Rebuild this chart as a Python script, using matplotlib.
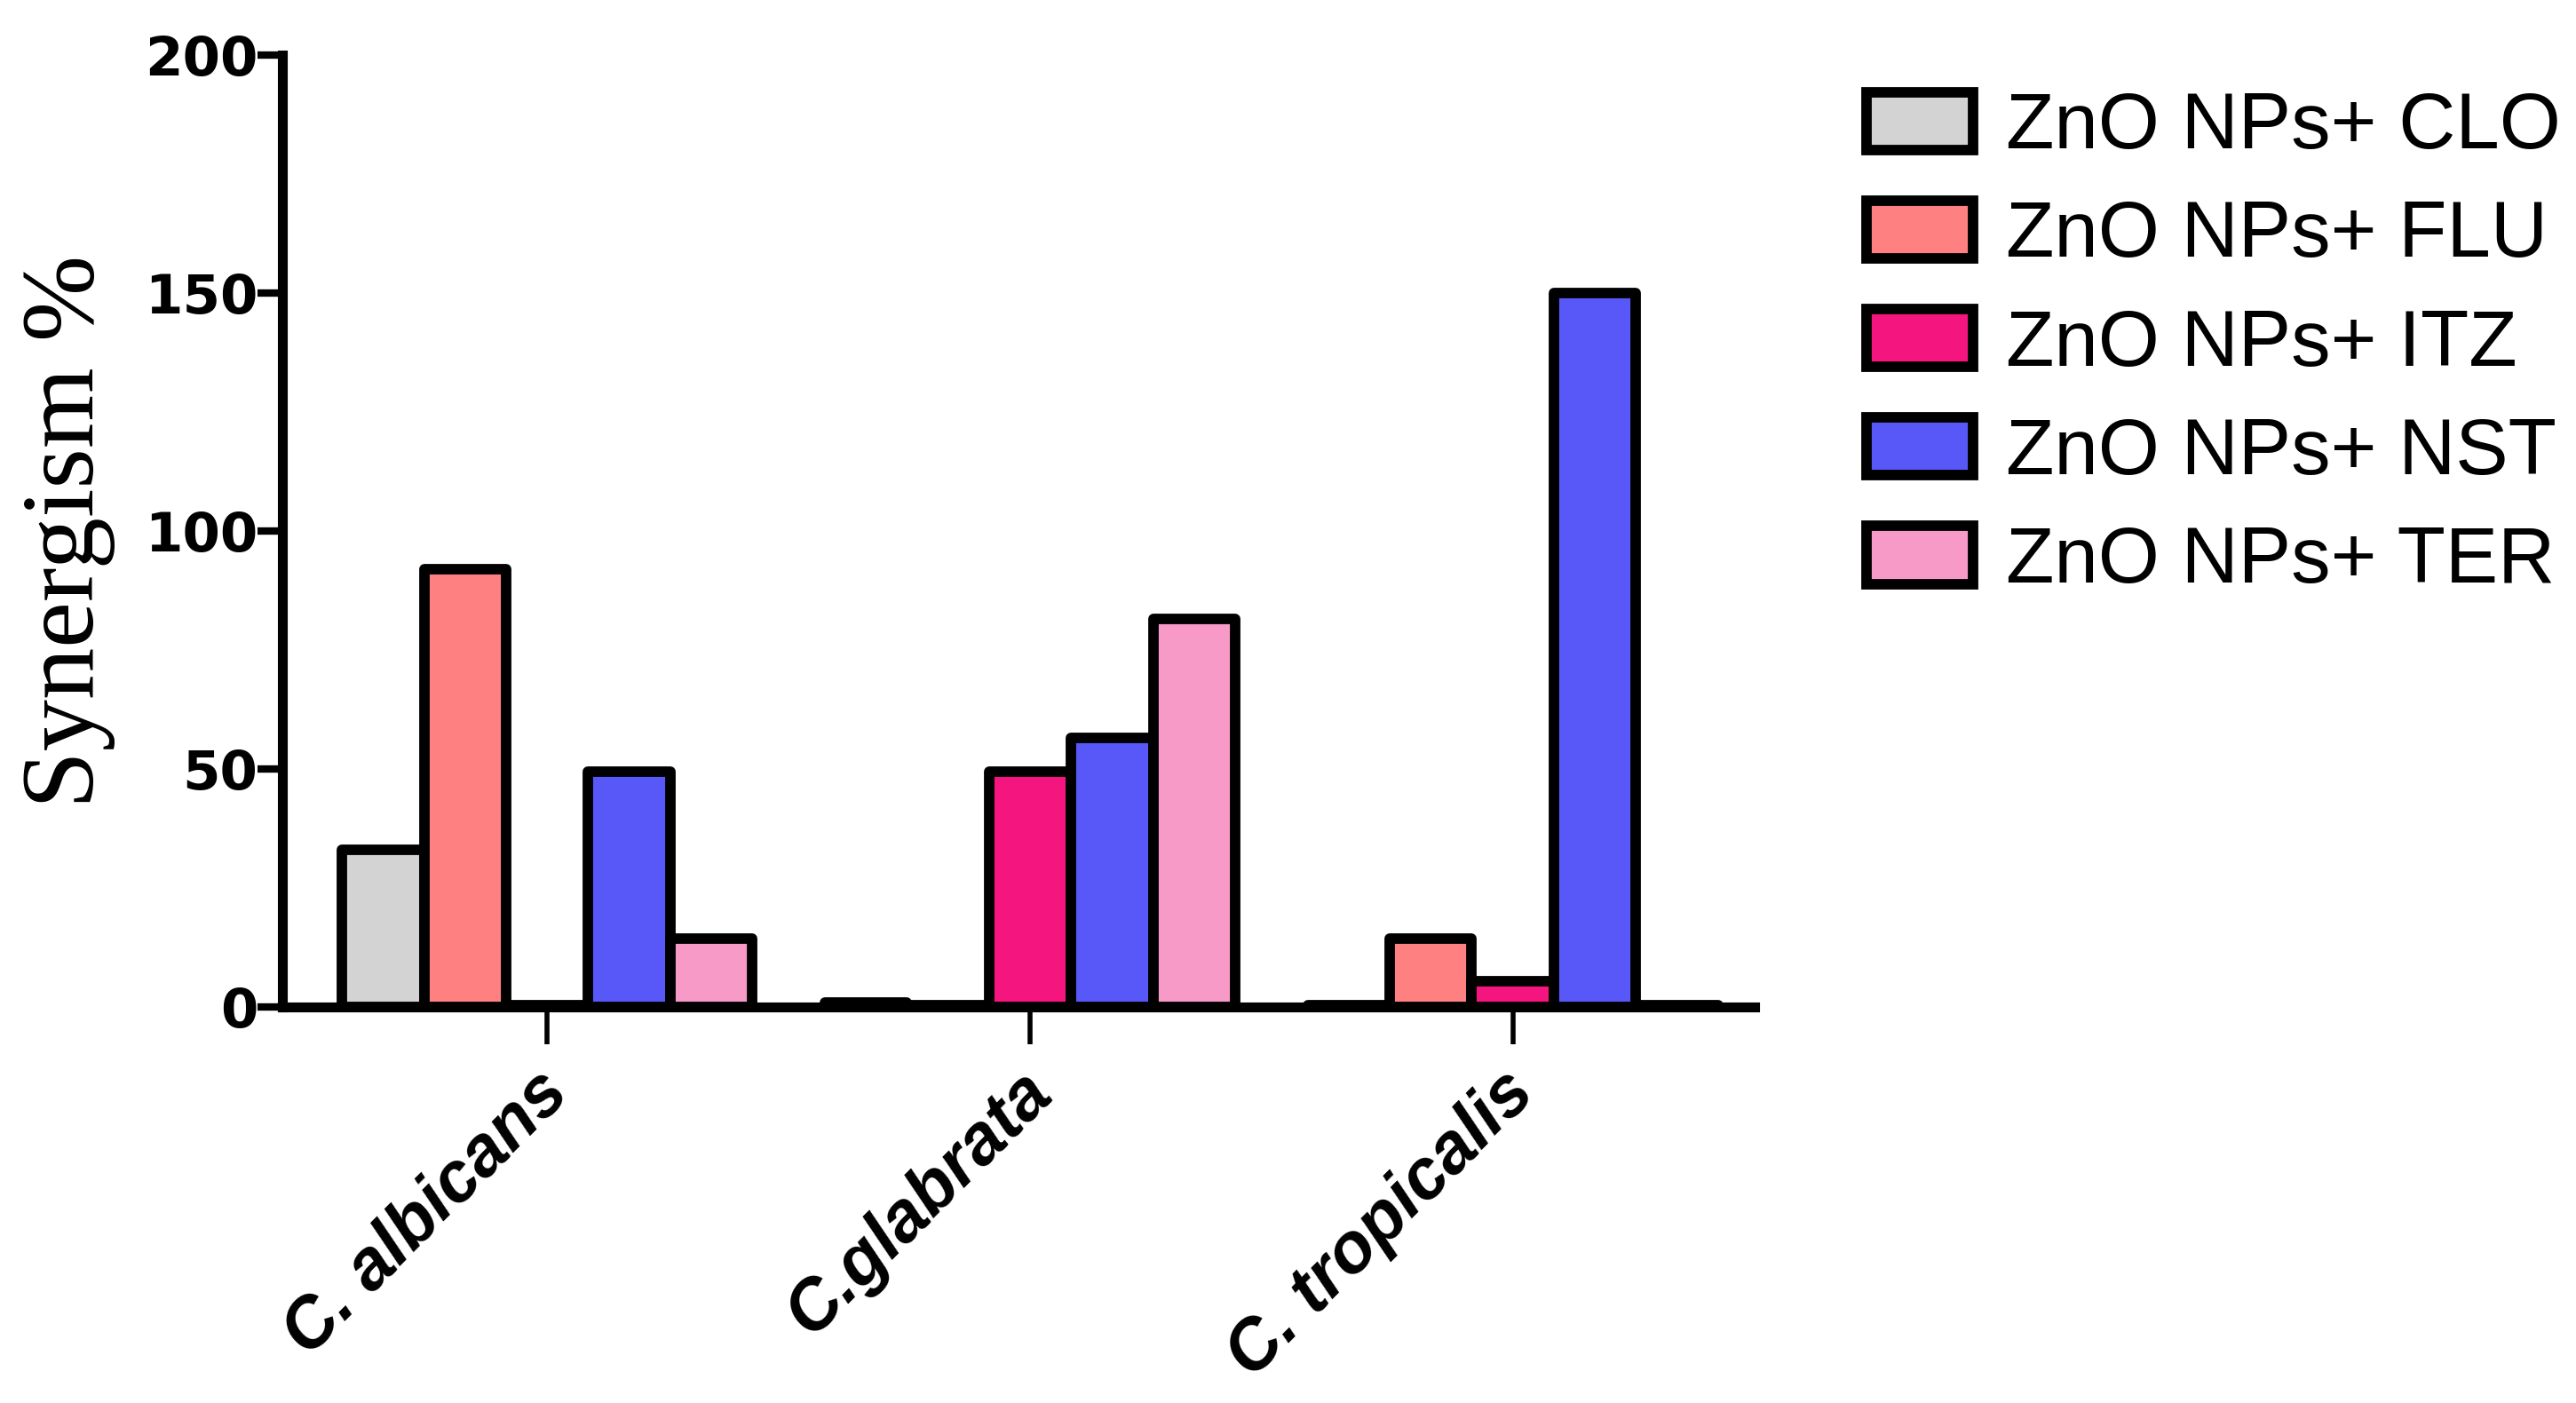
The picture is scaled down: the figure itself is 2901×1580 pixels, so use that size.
import numpy as np
from matplotlib import pyplot as plt
from matplotlib.transforms import ScaledTranslation

species = ['C. albicans', 'C.glabrata', 'C. tropicalis']
combos = ['ZnO NPs+ CLO', 'ZnO NPs+ FLU', 'ZnO NPs+ ITZ', 'ZnO NPs+ NST', 'ZnO NPs+ TER']

# values per combo, order: albicans, glabrata, tropicalis
clo = [33, 1.0, 0.5]
flu = [92, 0.5, 14.5]
itz = [0.5, 49.5, 5.5]
nst = [49.5, 56.5, 150]
ter = [14.5, 81.5, 0.5]

colors = ['#D3D3D3', '#FF8080', '#F5157F', '#5858F8', '#F79AC8']

fig = plt.figure(figsize=(29.01, 15.8), dpi=100)
ax = fig.add_axes([0.1097, 0.282, 0.5713, 0.679])

x = np.arange(len(species))
w = 0.17
for i, (vals, c, lab) in enumerate(zip([clo, flu, itz, nst, ter], colors, combos)):
	ax.bar(x + (i - 2) * w, vals, w, color=c, edgecolor='black', linewidth=8.5,
		label=lab, joinstyle='round', zorder=2)

ax.set_xlim(-0.548, 2.5)
ax.set_ylim(0, 200)
ax.set_yticks([0, 50, 100, 150, 200])

for s in ['top', 'right']:
	ax.spines[s].set_visible(False)
ax.spines['left'].set_linewidth(8)
ax.spines['bottom'].set_linewidth(8)
ax.spines['bottom'].set_zorder(3)

ax.tick_params(axis='y', length=20, width=6, pad=0)
ax.tick_params(axis='x', length=30, width=4, pad=12)
ax.set_yticklabels(['0', '50', '100', '150', '200'], fontsize=44, fontweight='bold',
	family='DejaVu Sans')
ax.set_xticks(x)
ax.set_xticklabels(species, rotation=45, ha='right', rotation_mode='anchor',
	fontsize=57, fontweight='bold', fontstyle='italic', family='Liberation Sans')
shift = ScaledTranslation(-0.14, 0, fig.dpi_scale_trans)
for t in ax.get_xticklabels():
	t.set_transform(t.get_transform() + shift)

ax.set_ylabel('Synergism %', fontsize=84, family='Liberation Serif', labelpad=24)

leg = fig.legend(loc='upper left', bbox_to_anchor=(0.697, 0.986), frameon=False,
	prop={'family': 'Liberation Sans', 'size': 64},
	handlelength=1.35, handleheight=0.75, labelspacing=0.43, handletextpad=0.42)
for p in leg.get_patches():
	p.set_linewidth(8.5)

fig.savefig('out.png', dpi=100)
